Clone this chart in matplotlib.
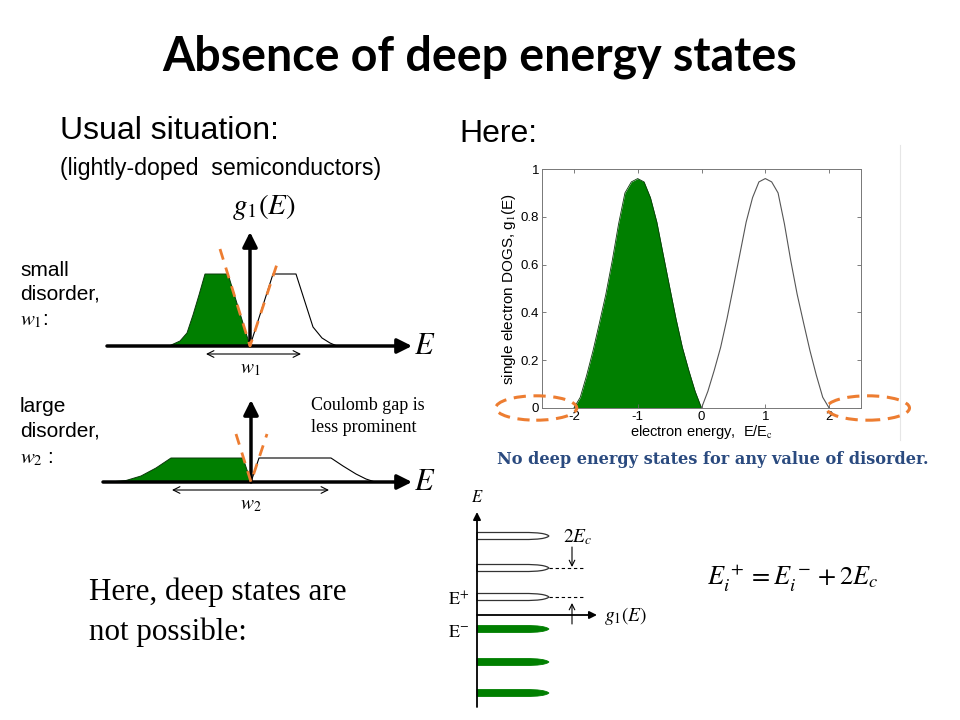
import matplotlib.pyplot as plt
from matplotlib.patches import Ellipse, Polygon

plt.rcParams['mathtext.fontset'] = 'stix'
plt.rcParams['axes.unicode_minus'] = False

SANS = 'Liberation Sans'
SERIF = 'Liberation Serif'
GREEN = '#007f00'
ORANGE = '#ed7d31'

# --- simulated DOGS panel (energy in units of E_c) ---
dogs_E_filled = [-2.0, -1.9, -1.8, -1.7, -1.6, -1.5, -1.4, -1.3, -1.2, -1.1, -1.0,
                 -0.9, -0.8, -0.7, -0.6, -0.5, -0.4, -0.3, -0.2, -0.1, 0.0]
dogs_g_filled = [0.0, 0.045, 0.137, 0.24, 0.356, 0.475, 0.615, 0.77, 0.90, 0.946, 0.96,
                 0.946, 0.88, 0.778, 0.642, 0.507, 0.374, 0.254, 0.158, 0.07, 0.0]
dogs_E_empty = [0.0, 0.1, 0.2, 0.3, 0.4, 0.5, 0.6, 0.7, 0.8, 0.9, 1.0,
                1.1, 1.2, 1.3, 1.4, 1.5, 1.6, 1.7, 1.8, 1.9, 2.0]
dogs_g_empty = [0.0, 0.07, 0.158, 0.254, 0.374, 0.507, 0.642, 0.778, 0.88, 0.946, 0.96,
                0.946, 0.90, 0.77, 0.615, 0.475, 0.356, 0.24, 0.137, 0.045, 0.0]
x_ticks = [-2, -1, 0, 1, 2]
y_ticks = [0, 0.2, 0.4, 0.6, 0.8, 1]
y_tick_labels = ['0', '0.2', '0.4', '0.6', '0.8', '1']

# --- schematic DOS sketches (E, g offsets from the axes origin, in px) ---
small_filled_E = [-81, -70, -63, -57, -51, -45, -22, 0]
small_filled_g = [0, 5, 13, 31, 51, 72, 72, 0]
small_empty_E = [0, 23, 46, 63, 72, 80, 87]
small_empty_g = [0, 72, 72, 19, 8, 3, 0]
small_gap_E = [-30, 0, 29]
small_gap_g = [97, 0, 88]

large_filled_E = [-141, -125, -110, -95, -80, -8, 0]
large_filled_g = [0, 1.5, 6, 14, 24, 24, 0]
large_empty_E = [0, 8, 80, 92, 105, 115, 124]
large_empty_g = [0, 24, 24, 16, 8, 3, 0]
large_gap_E = [-15, 0, 16]
large_gap_g = [48, 0, 48]

# narrow levels of the bottom sketch (energy offset from the g axis, px)
empty_levels = [79, 47, 18]
filled_levels = [-14, -47, -78]
lobe_len = 72
lobe_half = 3.5
lobe_f = [0, 0.72, 0.84, 0.91, 0.95, 0.98, 1.0]
lobe_w = [1, 1, 0.88, 0.7, 0.5, 0.28, 0]


def place(origin, E, g):
    return [origin[0] + e for e in E], [origin[1] - v for v in g]


fig = plt.figure(figsize=(9.6, 7.2), dpi=100)
sl = fig.add_axes([0, 0, 1, 1])
sl.set_xlim(0, 960)
sl.set_ylim(720, 0)
sl.axis('off')

# Titles and text
sl.text(480, 57, 'Absence of deep energy states', ha='center', va='center',
        fontsize=33.5, fontweight='bold', family='Lato')
sl.text(60, 131, 'Usual situation:', va='center', fontsize=23, family=SANS)
sl.text(60, 169, '(lightly-doped  semiconductors)', va='center', fontsize=16.7, family=SANS)
sl.text(459, 134, 'Here:', va='center', fontsize=23, family=SANS)

for txt, y in [('small', 270), ('disorder,', 294), (r'$w_1$:', 321)]:
    sl.text(20, y, txt, va='center', fontsize=15, family=SANS)
for txt, y in [('large', 407), ('disorder,', 431), (r'$w_2$ :', 459)]:
    sl.text(20, y, txt, va='center', fontsize=15, family=SANS)

sl.text(311, 406, 'Coulomb gap is', va='center', fontsize=13, family=SERIF)
sl.text(311, 427, 'less prominent', va='center', fontsize=13, family=SERIF)

sl.text(89, 592, 'Here, deep states are', va='center', fontsize=22.4, family=SERIF)
sl.text(89, 632, 'not possible:', va='center', fontsize=22.4, family=SERIF)


def axis_arrow(x0, y0, x1, y1, lw=2.5, ms=22):
    sl.annotate('', xy=(x1, y1), xytext=(x0, y0),
                arrowprops=dict(arrowstyle='-|>', lw=lw, color='k',
                                mutation_scale=ms, shrinkA=0, shrinkB=0))


def width_arrow(x0, x1, y):
    sl.annotate('', xy=(x1, y), xytext=(x0, y),
                arrowprops=dict(arrowstyle='<->', lw=0.8, color='k',
                                mutation_scale=12, shrinkA=0, shrinkB=0))


def sketch(origin, fE, fg, eE, eg, gE, gg, x_start, y_top, w_span, w_label):
    ox, oy = origin
    xs, ys = place(origin, fE, fg)
    sl.add_patch(Polygon(list(zip(xs, ys)), closed=True, facecolor=GREEN,
                         edgecolor='#0a3a0a', lw=0.7, zorder=2))
    xs, ys = place(origin, eE, eg)
    sl.plot(xs, ys, color='k', lw=0.8, zorder=2)
    axis_arrow(x_start, oy, 412, oy)
    axis_arrow(ox, oy, ox, y_top)
    xs, ys = place(origin, gE, gg)
    sl.plot(xs, ys, color=ORANGE, lw=2, dashes=(4, 3), zorder=3)
    width_arrow(w_span[0], w_span[1], oy + 8)
    sl.text(ox, oy + 22, w_label, ha='center', va='center', fontsize=14)
    sl.text(414, oy, r'$E$', va='center', fontsize=22)


sketch((250, 346), small_filled_E, small_filled_g, small_empty_E, small_empty_g,
       small_gap_E, small_gap_g, 107, 232, (206, 301), r'$w_1$')
sketch((251, 482), large_filled_E, large_filled_g, large_empty_E, large_empty_g,
       large_gap_E, large_gap_g, 103, 400, (172, 329), r'$w_2$')
sl.text(264, 207, r'$g_1(E)$', ha='center', va='center', fontsize=21)

# bottom-right level sketch
bx, by = 477, 615
for lev, filled in [(e, False) for e in empty_levels] + [(e, True) for e in filled_levels]:
    yc = by - lev
    top = [(bx + f * lobe_len, yc - w * lobe_half) for f, w in zip(lobe_f, lobe_w)]
    bot = [(bx + f * lobe_len, yc + w * lobe_half) for f, w in zip(lobe_f, lobe_w)][::-1]
    if filled:
        sl.add_patch(Polygon(top + bot, closed=True, facecolor=GREEN,
                             edgecolor=GREEN, lw=0.6, zorder=2))
    else:
        sl.add_patch(Polygon(top + bot, closed=True, facecolor='white',
                             edgecolor='#333333', lw=0.9, zorder=2))
axis_arrow(bx, 707, bx, 512, lw=1.3, ms=11)
axis_arrow(bx, by, 597, by, lw=1.3, ms=11)
for lev in empty_levels[1:]:
    sl.plot([bx + lobe_len, 583], [by - lev, by - lev], color='k', lw=0.8, dashes=(3, 2.5))
sl.annotate('', xy=(572, by - empty_levels[1] - 1), xytext=(572, 547),
            arrowprops=dict(arrowstyle='->', lw=0.8, color='k', mutation_scale=10,
                            shrinkA=0, shrinkB=0))
sl.annotate('', xy=(572, by - empty_levels[2] + 6), xytext=(572, 624),
            arrowprops=dict(arrowstyle='->', lw=0.8, color='k', mutation_scale=10,
                            shrinkA=0, shrinkB=0))
sl.text(477, 497, r'$E$', ha='center', va='center', fontsize=12)
sl.text(578, 537, r'$2E_c$', ha='center', va='center', fontsize=14)
sl.text(626, 616, r'$g_1(E)$', ha='center', va='center', fontsize=14)
sl.text(448, 600, r'$\mathrm{E}^{+}$', va='center', fontsize=13)
sl.text(448, 632, r'$\mathrm{E}^{-}$', va='center', fontsize=13)
sl.text(793, 578, r'$E_i^{\,+} = E_i^{\,-} + 2E_c$', ha='center', va='center', fontsize=19)

# faint border of the pasted figure
sl.plot([900, 900], [145, 440], color='#e6e6e6', lw=0.8)

sl.text(713, 459, 'No deep energy states for any value of disorder.', ha='center',
        va='center', fontsize=11.6, fontweight='bold', family='DejaVu Serif',
        color='#2a4a7f')

# --- simulation panel ---
ax = fig.add_axes([542 / 960, 1 - 408 / 720, 319 / 960, 239 / 720])
ax.fill_between(dogs_E_filled, dogs_g_filled, color=GREEN, lw=0)
ax.plot(dogs_E_filled, dogs_g_filled, color='#0a3a0a', lw=0.6)
ax.plot(dogs_E_empty, dogs_g_empty, color='#555555', lw=0.8)
ax.set_xlim(-2.5, 2.5)
ax.set_ylim(0, 1)
ax.set_xticks(x_ticks)
ax.set_xticklabels([str(t) for t in x_ticks])
ax.set_yticks(y_ticks)
ax.set_yticklabels(y_tick_labels)
ax.tick_params(direction='in', top=True, right=True, length=3, width=0.6,
               labelsize=9.5, pad=2, color='#666666')
for lab in ax.get_xticklabels() + ax.get_yticklabels():
    lab.set_family(SANS)
for sp in ax.spines.values():
    sp.set_color('#777777')
    sp.set_linewidth(0.7)
ax.set_xlabel(r'electron energy,  E/E$_\mathrm{c}$', family=SANS, fontsize=10.5, labelpad=0)
ax.set_ylabel(r'single electron DOGS, g$_\mathrm{1}$(E)', family=SANS, fontsize=11, labelpad=2)

for cx, w in [(-2.59, 1.27), (2.61, 1.30)]:
    ax.add_patch(Ellipse((cx, 0), w, 0.102, fill=False, edgecolor=ORANGE, lw=2.2,
                         ls=(0, (4, 2.5)), clip_on=False, zorder=5))

fig.savefig('out.png', dpi=100)
